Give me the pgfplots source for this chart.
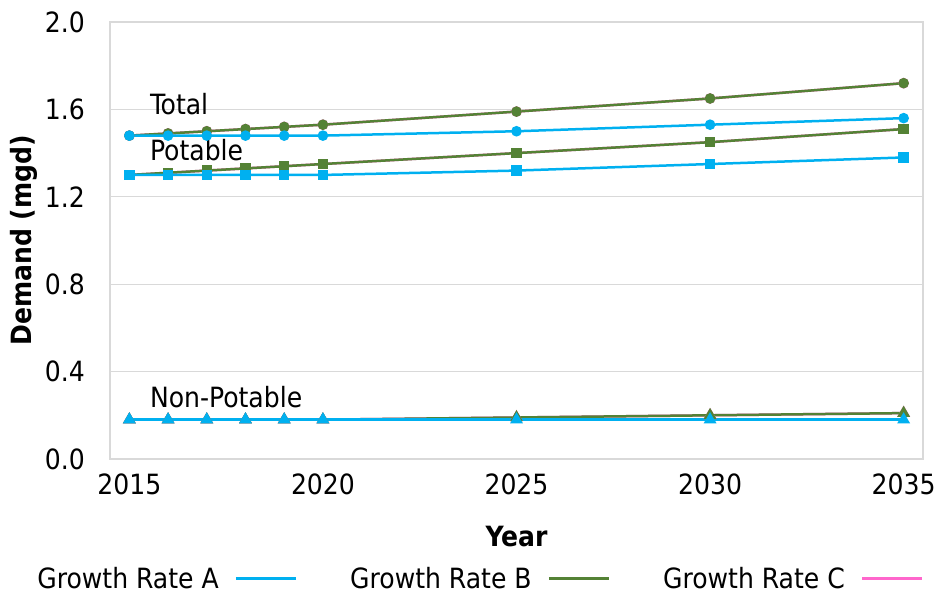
\documentclass[border=0pt]{standalone}
\usepackage{pgfplots}
\pgfplotsset{compat=1.18}
\usepackage{fontspec}
\setmainfont{DejaVu Sans Condensed}
\definecolor{ga}{HTML}{00B0F0}
\definecolor{gb}{HTML}{548235}
\definecolor{gc}{HTML}{FF66CC}
\definecolor{gridc}{HTML}{D9D9D9}
\newcommand{\cf}{\fontsize{28}{33}\selectfont}
\begin{document}
\begin{tikzpicture}
\begin{axis}[
  scale only axis, width=813bp, height=437bp,
  at={(0,0)}, anchor=south west,
  xmin=2014.5, xmax=2035.5, ymin=0, ymax=2,
  xtick={2015,2020,2025,2030,2035},
  ytick={0,0.4,0.8,1.2,1.6,2.0},
  /pgf/number format/assume math mode=true,
  xticklabel style={/pgf/number format/1000 sep={}, inner sep=0pt, anchor=north, yshift=-15bp},
  yticklabel style={/pgf/number format/.cd, fixed, fixed zerofill, precision=1, /tikz/.cd, inner sep=0pt, anchor=east, xshift=-25bp},
  tick label style={font=\cf},
  ymajorgrids, grid style={draw=gridc, line width=1.3pt},
  axis line style={draw=gridc, line width=1.3pt},
  major tick length=0pt,
  xlabel={\bfseries Year}, ylabel={\bfseries Demand (mgd)},
  label style={font=\cf},
  xlabel style={at={(axis description cs:0.5,-0.178)}, anchor=center},
  ylabel style={at={(axis description cs:-0.106,0.5)}, anchor=center, rotate=0},
  legend plot pos=right,
  legend columns=3,
  legend style={at={(axis description cs:-0.092,-0.274)}, anchor=west, draw=none, fill=none,
    font=\cf, inner sep=0pt,
    /tikz/every even column/.append style={column sep=51bp},
    /tikz/every odd column/.append style={column sep=14bp}},
  legend image code/.code={\draw[#1, line width=2.5bp] (0bp,0bp) -- (60bp,0bp);},
  every axis plot/.append style={line width=2.5bp},
]
% legend images
\addlegendimage{ga}
\addlegendentry{Growth Rate A}
\addlegendimage{gb}
\addlegendentry{Growth Rate B}
\addlegendimage{gc}
\addlegendentry{Growth Rate C}

% Growth Rate C (hidden beneath B)
\addplot[gc, mark=*, mark size=4bp, forget plot] coordinates {(2015,1.48)(2016,1.49)(2017,1.50)(2018,1.51)(2019,1.52)(2020,1.53)(2025,1.59)(2030,1.65)(2035,1.72)};
\addplot[gc, mark=square*, mark size=4bp, forget plot] coordinates {(2015,1.30)(2016,1.31)(2017,1.32)(2018,1.33)(2019,1.34)(2020,1.35)(2025,1.40)(2030,1.45)(2035,1.51)};
\addplot[gc, mark=triangle*, mark size=5bp, forget plot] coordinates {(2015,0.18)(2016,0.18)(2017,0.18)(2018,0.18)(2019,0.18)(2020,0.18)(2025,0.19)(2030,0.20)(2035,0.21)};

% Growth Rate B
\addplot[gb, mark=*, mark size=4bp, forget plot] coordinates {(2015,1.48)(2016,1.49)(2017,1.50)(2018,1.51)(2019,1.52)(2020,1.53)(2025,1.59)(2030,1.65)(2035,1.72)};
\addplot[gb, mark=square*, mark size=4bp, forget plot] coordinates {(2015,1.30)(2016,1.31)(2017,1.32)(2018,1.33)(2019,1.34)(2020,1.35)(2025,1.40)(2030,1.45)(2035,1.51)};
\addplot[gb, mark=triangle*, mark size=5bp, forget plot] coordinates {(2015,0.18)(2016,0.18)(2017,0.18)(2018,0.18)(2019,0.18)(2020,0.18)(2025,0.19)(2030,0.20)(2035,0.21)};

% Growth Rate A
\addplot[ga, mark=*, mark size=4bp, forget plot] coordinates {(2015,1.48)(2016,1.48)(2017,1.48)(2018,1.48)(2019,1.48)(2020,1.48)(2025,1.50)(2030,1.53)(2035,1.56)};
\addplot[ga, mark=square*, mark size=4bp, forget plot] coordinates {(2015,1.30)(2016,1.30)(2017,1.30)(2018,1.30)(2019,1.30)(2020,1.30)(2025,1.32)(2030,1.35)(2035,1.38)};
\addplot[ga, mark=triangle*, mark size=5bp, forget plot] coordinates {(2015,0.18)(2016,0.18)(2017,0.18)(2018,0.18)(2019,0.18)(2020,0.18)(2025,0.18)(2030,0.18)(2035,0.18)};

\node[anchor=west, font=\cf, inner sep=0pt] at (axis cs:2015.53,1.625) {Total};
\node[anchor=west, font=\cf, inner sep=0pt] at (axis cs:2015.53,1.414) {Potable};
\node[anchor=west, font=\cf, inner sep=0pt] at (axis cs:2015.53,0.284) {Non-Potable};
\end{axis}
\pgfresetboundingbox
\useasboundingbox (-110bp,-135bp) rectangle (826bp,459bp);
\end{tikzpicture}
\end{document}
